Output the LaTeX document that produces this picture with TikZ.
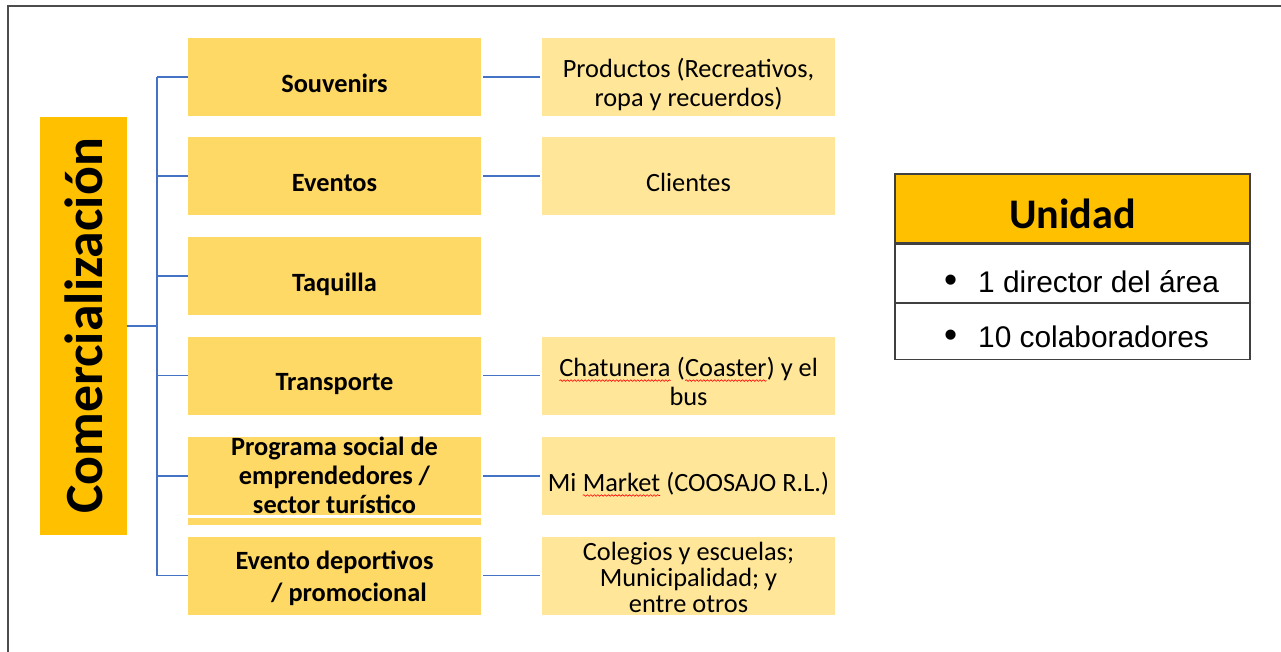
\documentclass[tikz,border=0pt]{standalone}
\usepackage{fontspec}
\setmainfont{Carlito}
\newfontfamily\arialfont{Liberation Sans}
\usepackage{tikz}
\usetikzlibrary{positioning,decorations.pathmorphing}
\newcommand\pxl{0.02cm}
\newcommand\txt[2][-9pt]{\raisebox{#1}[0pt][0pt]{\begin{tabular}{@{}c@{}}#2\end{tabular}}}
\newcommand\squig[1]{\tikz[baseline=(t.base)]{\node[inner sep=0pt,outer sep=0pt,minimum width=0pt,
  minimum height=0pt,fill=none,draw=none](t){#1};
  \draw[red,line width=0.35pt,decorate,decoration={snake,amplitude=0.45pt,segment length=2pt}]
  ([yshift=-2.4pt]t.base west)--([yshift=-2.4pt]t.base east);}}
\definecolor{oro}{HTML}{FFC000}
\definecolor{amarillo}{HTML}{FFD966}
\definecolor{crema}{HTML}{FFE699}
\definecolor{azul}{HTML}{4472C4}

\begin{document}
\begin{tikzpicture}[x=0.02cm,y=-0.02cm,
  area/.style={fill=amarillo,inner sep=0pt,minimum width=293*\pxl,minimum height=78*\pxl,
    font=\fontsize{15}{16.4}\selectfont\bfseries},
  detalle/.style={fill=crema,inner sep=0pt,minimum width=293*\pxl,minimum height=78*\pxl,
    font=\fontsize{15}{16.4}\selectfont},
  rama/.style={azul,line width=1.1pt},
  fila/.style={draw=black!75,line width=0.7pt,inner sep=0pt,minimum width=355*\pxl}]
\useasboundingbox (0,0) rectangle (1281,652);
\draw[black!70,line width=1.1pt] (8,652) -- (8,6) -- (1281,6);

% unidad
\node[fill=oro,inner sep=0pt,minimum width=87*\pxl,minimum height=418*\pxl] (com) at (83.5,326)
  {\rotatebox{90}{\fontsize{30.6}{31}\selectfont\bfseries Comercializaci\'on}};

% areas
\node[area] (souv) at (334.5,77) {\txt{Souvenirs}};
\node[area] (even) at (334.5,176) {\txt{Eventos}};
\node[area] (taq) at (334.5,276) {\txt{Taquilla}};
\node[area] (trans) at (334.5,375.5) {\txt{Transporte}};
\node[area] (prog) at (334.5,476) {\txt[-5.2pt]{Programa social de\\emprendedores /\\sector tur\'istico}};
\node[area,minimum height=7*\pxl,below=2*\pxl of prog] (tira) {};
\node[area] (depor) at (334.5,575.5) {\txt[-6pt]{Evento deportivos\\[1.6pt]\hspace{1.1em}/ promocional}};

% detalles
\node[detalle] (prod) at (688.5,77) {\txt{Productos (Recreativos,\\ropa y recuerdos)}};
\node[detalle] (cli) at (688.5,176) {\txt{Clientes}};
\node[detalle] (chat) at (688.5,375.5) {\txt{\squig{Chatunera} (\squig{Coaster}) y el\\bus}};
\node[detalle] (mark) at (688.5,476) {\txt{Mi \squig{Market} (COOSAJO R.L.)}};
\node[detalle,font=\fontsize{15}{14.6}\selectfont] (cole) at (688.5,575.5) {\txt[-7pt]{Colegios y escuelas;\\Municipalidad; y\\entre otros}};

% llaves
\draw[rama] (com.east) -- ++(30,0) coordinate (eje);
\draw[rama] (eje |- souv.west) -- (eje |- depor.west);
\foreach \n in {souv,even,taq,trans,prog,depor}
  \draw[rama] (eje |- \n.west) -- (\n.west);
\foreach \a/\b in {souv/prod,even/cli,trans/chat,prog/mark,depor/cole}
  \draw[rama,shorten <=2*\pxl,shorten >=2*\pxl] (\a.east) -- (\b.west);

% tabla
\node[fila,fill=oro,minimum height=69*\pxl,font=\fontsize{24}{24}\selectfont\bfseries] (uni) at (1072.5,208.5) {\txt[-13pt]{Unidad}};
\node[fila,minimum height=58*\pxl,below=0pt of uni] (dir) {};
\node[fila,minimum height=56*\pxl,below=0pt of dir] (col) {};
\node[anchor=west,font=\arialfont\fontsize{17}{17}\selectfont] (tdir) at (938,282)
  {\scalebox{1.25}{\textbullet}\hspace{0.7em}1 director del \'area};
\node[anchor=west,font=\arialfont\fontsize{17}{17}\selectfont] (tcol) at (938,337)
  {\scalebox{1.25}{\textbullet}\hspace{0.7em}10 colaboradores};
\end{tikzpicture}
\end{document}
